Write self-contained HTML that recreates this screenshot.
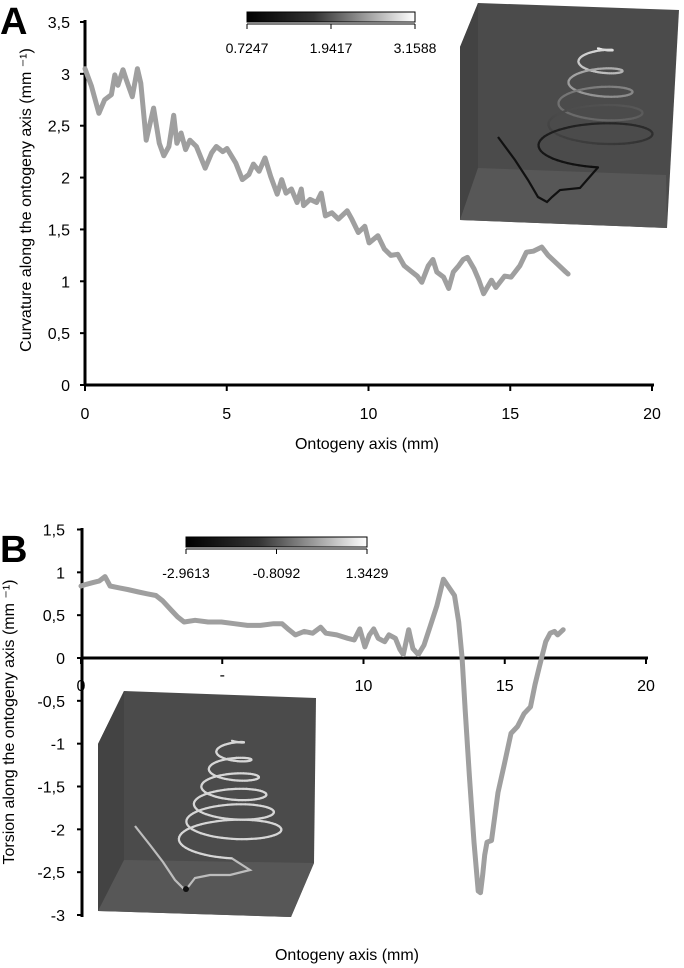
<!DOCTYPE html>
<html><head><meta charset="utf-8"><style>
html,body{margin:0;padding:0;background:#fff;}
svg{display:block;font-family:"Liberation Sans",sans-serif;}
</style></head><body>
<svg id="s" width="684" height="968" viewBox="0 0 684 968">
<text x="0" y="34" font-size="38" font-weight="bold">A</text>
<text x="0" y="562" font-size="38" font-weight="bold">B</text>
<g id="ga"></g>
<g id="gb"></g>
</svg>
<script>
// Chart A data (curvature)
const aX=[0,0.23,0.49,0.69,0.93,1.05,1.16,1.34,1.46,1.67,1.85,1.97,2.16,2.42,2.62,2.78,2.96,3.13,3.24,3.39,3.55,3.70,3.93,4.24,4.47,4.63,4.86,5.01,5.32,5.55,5.78,5.94,6.14,6.35,6.55,6.78,6.94,7.09,7.28,7.48,7.63,7.71,7.94,8.17,8.33,8.48,8.71,8.94,9.25,9.41,9.64,9.87,10.02,10.33,10.56,10.79,11.03,11.26,11.49,11.72,11.88,12.11,12.27,12.41,12.65,12.83,12.99,13.18,13.34,13.49,13.72,13.88,14.06,14.34,14.49,14.80,15.03,15.34,15.57,15.81,16.11,16.34,16.65,16.96,17.04];
const aY=[3.05,2.88,2.62,2.75,2.80,2.99,2.89,3.04,2.94,2.78,3.05,2.91,2.36,2.67,2.33,2.21,2.30,2.60,2.33,2.43,2.27,2.36,2.30,2.09,2.24,2.30,2.25,2.28,2.14,1.98,2.03,2.13,2.06,2.19,2.01,1.84,1.98,1.85,1.89,1.76,1.89,1.73,1.79,1.76,1.85,1.63,1.66,1.60,1.68,1.60,1.47,1.53,1.37,1.44,1.31,1.25,1.26,1.15,1.10,1.05,0.99,1.15,1.21,1.09,1.04,0.93,1.09,1.15,1.21,1.23,1.12,1.02,0.88,1.01,0.94,1.05,1.04,1.15,1.28,1.29,1.33,1.25,1.17,1.09,1.07];
const aYTicks=["0","0,5","1","1,5","2","2,5","3","3,5"];
const aXTicks=["0","5","10","15","20"];
const aBar=["0.7247","1.9417","3.1588"];
// Chart B data (torsion)
const bX=[0,0.19,0.42,0.65,0.85,1.03,1.34,1.65,2.04,2.34,2.65,2.88,3.19,3.42,3.65,4.04,4.50,4.97,5.43,5.89,6.35,6.82,7.12,7.36,7.59,7.90,8.20,8.48,8.67,9.05,9.44,9.67,9.87,10.05,10.21,10.36,10.52,10.75,10.90,11.13,11.29,11.41,11.60,11.75,11.94,12.14,12.37,12.60,12.83,12.99,13.22,13.37,13.49,13.60,13.75,13.91,14.06,14.14,14.22,14.29,14.37,14.53,14.76,14.99,15.22,15.45,15.68,15.91,16.07,16.22,16.45,16.61,16.76,16.87,17.07];
const bY=[0.84,0.86,0.88,0.90,0.95,0.84,0.82,0.80,0.77,0.75,0.73,0.67,0.56,0.48,0.42,0.44,0.42,0.42,0.40,0.38,0.38,0.40,0.40,0.33,0.27,0.31,0.29,0.36,0.29,0.27,0.23,0.21,0.34,0.13,0.27,0.34,0.23,0.19,0.27,0.23,0.10,0.04,0.33,0.11,0.04,0.15,0.38,0.61,0.92,0.84,0.73,0.42,0,-0.61,-1.38,-2.15,-2.72,-2.74,-2.53,-2.30,-2.15,-2.13,-1.57,-1.23,-0.88,-0.80,-0.65,-0.57,-0.31,-0.11,0.19,0.29,0.31,0.27,0.33];
const bYTicks=["-3","-2,5","-2","-1,5","-1","-0,5","0","0,5","1","1,5"];
const bXTicks=["0","-","10","15","20"];
const bBar=["-2.9613","-0.8092","1.3429"];

const NS="http://www.w3.org/2000/svg";
function mk(p,tag,at,txt){const e=document.createElementNS(NS,tag);for(const k in at)e.setAttribute(k,at[k]);if(txt!==undefined)e.textContent=txt;p.appendChild(e);return e;}
function helix(g,cx,top,height,r0,r1,turns,colFn){
 const N=turns*60;let prev=null;
 for(let i=0;i<=N;i++){const f=i/N,th=f*turns*2*Math.PI;
  const rx=r0+f*(r1-r0),cy=top+f*height;
  const p=[cx+rx*Math.sin(th),cy+rx*0.28*Math.cos(th)];
  if(prev)mk(g,'line',{x1:prev[0].toFixed(1),y1:prev[1].toFixed(1),x2:p[0].toFixed(1),y2:p[1].toFixed(1),stroke:colFn(f),"stroke-width":2.2,"stroke-linecap":"round"});
  prev=p;}
 return prev;
}

// A axes
const ga=document.getElementById('ga');
const ax=v=>85+v*(652-85)/20, ay=v=>385-v*(385-22)/3.5;
{
const g=mk(ga,'g',{});


mk(g,'polygon',{points:"478,3 679,10 667,228 460,220 460,47",fill:"#4b4b4b"});
mk(g,'polygon',{points:"460,47 478,3 478,168 460,220",fill:"#434343"});
mk(g,'polygon',{points:"478,168 666,175 667,228 460,220",fill:"#575757"});
const end=helix(g,598,45,105,12,62,5,f=>{const c=Math.round(235-f*220);return `rgb(${c},${c},${c})`;});
mk(g,'polyline',{points:`${end[0].toFixed(1)},${end[1].toFixed(1)} 580,188 560,190 552,197 547,202 538,197 528,180 515,160 498,137`,fill:"none",stroke:"#111","stroke-width":2.2});
}
mk(ga,'line',{x1:85,y1:20,x2:85,y2:386,stroke:"#000","stroke-width":3});
mk(ga,'line',{x1:84,y1:385,x2:654,y2:385,stroke:"#000","stroke-width":3});
aYTicks.forEach((t,i)=>{const y=ay(i*0.5);
 const l=mk(ga,'line',{x1:80,y1:y,x2:85,y2:y,stroke:"#000","stroke-width":2});
 
 const e=mk(ga,'text',{x:70,y:y+6,"font-size":16,"text-anchor":"end"},t);
 });
aXTicks.forEach((t,i)=>{const x=ax(i*5);
 mk(ga,'line',{x1:x,y1:385,x2:x,y2:391,stroke:"#000","stroke-width":2});
 const e=mk(ga,'text',{x:x,y:419,"font-size":16,"text-anchor":"middle"},t);
 });
{const e=mk(ga,'text',{x:367,y:449,"font-size":16,"text-anchor":"middle"},"Ontogeny axis (mm)");

const t=mk(ga,'text',{transform:"translate(31,200) rotate(-90)","font-size":16,"text-anchor":"middle"},"Curvature along the ontogeny axis (mm ⁻¹)");
}
{const p=mk(ga,'path',{d:aX.map((x,i)=>(i?'L':'M')+ax(x).toFixed(1)+','+ay(aY[i]).toFixed(1)).join(''),fill:"none",stroke:"#9f9f9f","stroke-width":5,"stroke-linejoin":"round","stroke-linecap":"round"});
}

function cbar(parent,x1,x2,y,labels,name){
 const g=mk(parent,'g',{});
 
 const id=name+'-grad';const d=mk(g,'defs',{});const lg=mk(d,'linearGradient',{id:id});
 mk(lg,'stop',{offset:"0","stop-color":"#000"});mk(lg,'stop',{offset:"0.4","stop-color":"#333"});mk(lg,'stop',{offset:"1","stop-color":"#fff"});
 mk(g,'rect',{x:x1,y:y,width:x2-x1,height:10,fill:"url(#"+id+")",stroke:"#000","stroke-width":1});
 mk(g,'line',{x1:x1,y1:y+12,x2:x2,y2:y+12,stroke:"#000","stroke-width":1});
 labels.forEach((t,i)=>{const x=x1+(x2-x1)*i/(labels.length-1);
  mk(g,'line',{x1:x,y1:y+12,x2:x,y2:y+17,stroke:"#000","stroke-width":1});
  mk(g,'text',{x:x,y:y+41,"font-size":14,"text-anchor":"middle"},t);});
}
cbar(ga,247,415,12,aBar,'colorbar-a');

// B
const gb=document.getElementById('gb');
const bx=v=>81+v*(646-81)/20, by=v=>658-v*(658-915)/-3;
{
const g=mk(gb,'g',{});


mk(g,'polygon',{points:"124,691 316,698 314,863 291,917 98,911 98,744",fill:"#4b4b4b"});
mk(g,'polygon',{points:"98,744 124,691 124,860 98,911",fill:"#434343"});
mk(g,'polygon',{points:"124,860 314,863 291,917 98,911",fill:"#575757"});
const end=helix(g,232,738,105,10,55,6,f=>"#d6d6d6");
mk(g,'polyline',{points:`${end[0].toFixed(1)},${end[1].toFixed(1)} 250,870 230,875 210,875 195,878 188,887 183,888 175,880 163,862 150,845 135,826`,fill:"none",stroke:"#bdbdbd","stroke-width":2.2});
mk(g,'circle',{cx:186,cy:889,r:3,fill:"#111"});
}
mk(gb,'line',{x1:82,y1:528,x2:82,y2:917,stroke:"#000","stroke-width":3});
mk(gb,'line',{x1:81,y1:658,x2:648,y2:658,stroke:"#000","stroke-width":3});
bYTicks.forEach((t,i)=>{const v=-3+i*0.5;const y=by(v);
 mk(gb,'line',{x1:77,y1:y,x2:82,y2:y,stroke:"#000","stroke-width":2});
 const e=mk(gb,'text',{x:65,y:y+6,"font-size":16,"text-anchor":"end"},t);
 });
bXTicks.forEach((t,i)=>{const x=bx(i*5);
 mk(gb,'line',{x1:x,y1:658,x2:x,y2:664,stroke:"#000","stroke-width":2});
 const e=mk(gb,'text',{x:x,y:i==1?680:691,"font-size":16,"text-anchor":"middle"},t);
 });
{const e=mk(gb,'text',{x:347,y:960,"font-size":16,"text-anchor":"middle"},"Ontogeny axis (mm)");

const t=mk(gb,'text',{transform:"translate(14,722) rotate(-90)","font-size":16,"text-anchor":"middle"},"Torsion along the ontogeny axis (mm ⁻¹)");
}
{const p=mk(gb,'path',{d:bX.map((x,i)=>(i?'L':'M')+bx(x).toFixed(1)+','+by(bY[i]).toFixed(1)).join(''),fill:"none",stroke:"#9f9f9f","stroke-width":5,"stroke-linejoin":"round","stroke-linecap":"round"});
}
cbar(gb,186,367,537,bBar,'colorbar-b');
</script>
</body></html>
